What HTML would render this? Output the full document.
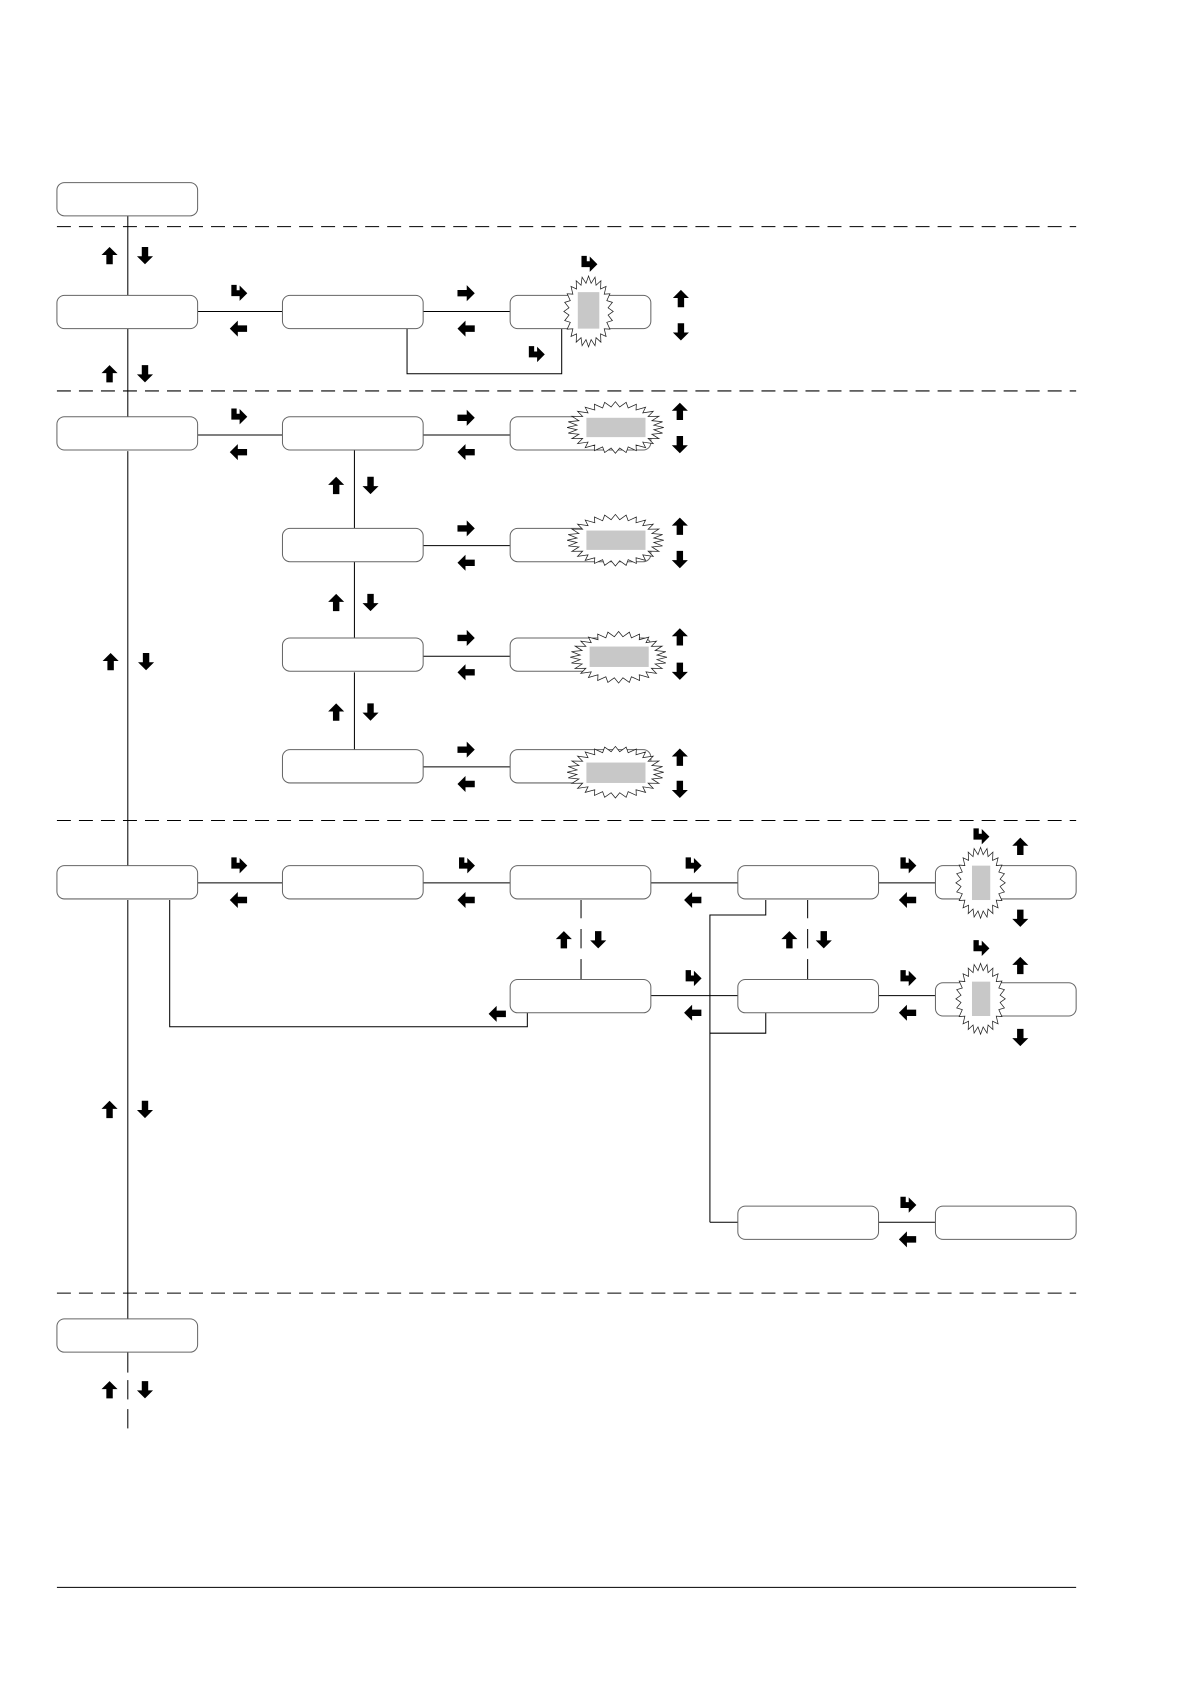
<!DOCTYPE html>
<html><head><meta charset="utf-8"><style>html,body{margin:0;padding:0;background:#fff;width:1190px;height:1684px;overflow:hidden}</style></head>
<body>
<svg id="s" width="1190" height="1684" xmlns="http://www.w3.org/2000/svg"><g id="g" transform="scale(1.074)"></g></svg>
<script>
var g=document.getElementById('g'),NS='http://www.w3.org/2000/svg';
function el(t,a){var e=document.createElementNS(NS,t);for(var k in a)e.setAttribute(k,a[k]);g.appendChild(e);return e;}
function line(pts,dash){el('polyline',{points:pts.map(function(p){return p.join(',')}).join(' '),fill:'none',stroke:'#000','stroke-width':0.95,'stroke-dasharray':dash||'none'});}
var cols=[53,263,475,687,871];
function box(c,y){el('rect',{x:cols[c],y:y,width:131,height:31,rx:7,fill:'#fff',stroke:'#666','stroke-width':0.95});}
[211,364,764,1204].forEach(function(y){line([[53,y],[1002,y]],'13 7.5');});
line([[53,1478],[1002,1478]]);
[[200,275],[305,388],[420,806],[838,1228],[1259,1278],[1285,1303],[1312,1330]].forEach(function(s){line([[119,s[0]],[119,s[1]]]);});
function h(y,x1,x2){line([[x1,y],[x2,y]]);}
h(290,184,263);h(290,394,475);
line([[379,305],[379,348],[523,348],[523,305]]);
h(405,184,263);h(405,394,475);h(508,394,475);h(611,394,475);h(714,394,475);
line([[330,419],[330,492]]);line([[330,523],[330,594]]);line([[330,626],[330,698]]);
h(822,184,263);h(822,394,475);h(822,606,687);h(822,818,871);
h(927,606,687);h(927,818,871);h(1138,818,871);h(1138,661,687);
[541,752].forEach(function(x){line([[x,838],[x,855]]);line([[x,865],[x,883]]);line([[x,893],[x,912]]);});
line([[158,838],[158,956],[491,956],[491,942]]);
line([[713,838],[713,852],[661,852],[661,1138]]);
line([[713,942],[713,962],[661,962]]);
box(0,170);
box(0,275);box(1,275);box(2,275);
box(0,388);box(1,388);box(2,388);
box(1,492);box(2,492);box(1,594);box(2,594);box(1,698);box(2,698);
box(0,806);box(1,806);box(2,806);box(3,806);box(4,806);
box(2,912);box(3,912);box(4,915);
box(3,1123);box(4,1123);
box(0,1228);
function star(cx,cy,rx,ry,n,gx,gy,gw,gh){
 var p=[];for(var i=0;i<2*n;i++){var a=Math.PI*i/n,f=i%2?0.8:1;p.push((cx+rx*f*Math.cos(a)).toFixed(1)+','+(cy+ry*f*Math.sin(a)).toFixed(1));}
 el('polygon',{points:p.join(' '),fill:'#fff',stroke:'#222','stroke-width':0.7});
 el('rect',{x:gx,y:gy,width:gw,height:gh,fill:'#c8c8c8'});
}
star(548,290,23,33,24,538,272,20,34);
star(573,398,45,24,28,546,389,55,18);
star(573,503,45,24,28,546,494,55,18);
star(576,612,45,24,28,549,602,55,19);
star(573,719,45,24,28,546,710,55,19);
star(913,822,23,33,24,905,806,17,32);
star(913,930,23,33,24,905,914,17,32);
var up='0,-7 6.5,-0.5 2.6,-0.5 2.6,7 -2.6,7 -2.6,-0.5 -6.5,-0.5';
function arr(x,y,rot){el('polygon',{points:up,fill:'#000',transform:'translate('+x+','+y+') rotate('+rot+') scale(1.15)'});}
function U(x,y){arr(x,y,0);}function D(x,y){arr(x,y,180);}function L(x,y){arr(x,y,-90);}function R(x,y){arr(x,y,90);}
function H(x,y){el('path',{d:'M-6,-7 L-1.5,-7 L-1.5,-2.5 L1,-2.5 L1,-6.5 L7.5,0 L1,6.5 L1,2.5 L-6,2.5 Z',fill:'#000',transform:'translate('+x+','+y+') scale(1.1)'});}
U(102,238);D(135,238);U(102,348);D(135,348);
H(222,273);L(222,306);R(434,273);L(434,306);H(548,246);H(499,330);U(634,278);D(634,309);
H(222,388);L(222,421);R(434,389);L(434,421);U(633,383);D(633,414);
R(434,492);L(434,524);U(633,490);D(633,521);
R(434,594);L(434,626);U(633,593);D(633,625);
R(434,698);L(434,730);U(633,705);D(633,735);
U(313,452);D(345,452);U(313,561);D(345,561);U(313,663);D(345,663);
U(103,616);D(136,616);
H(222,806);L(222,838);H(434,806);L(434,838);H(645,806);L(645,838);H(845,806);L(845,838);
H(913,779);U(950,788);D(950,855);
U(525,875);D(557,875);U(735,875);D(767,875);
L(463,944);H(645,911);L(645,943);H(845,911);L(845,943);H(913,883);U(950,899);D(950,966);
H(845,1122);L(845,1154);
U(102,1033);D(135,1033);U(102,1294);D(135,1294);
</script>
</body></html>
